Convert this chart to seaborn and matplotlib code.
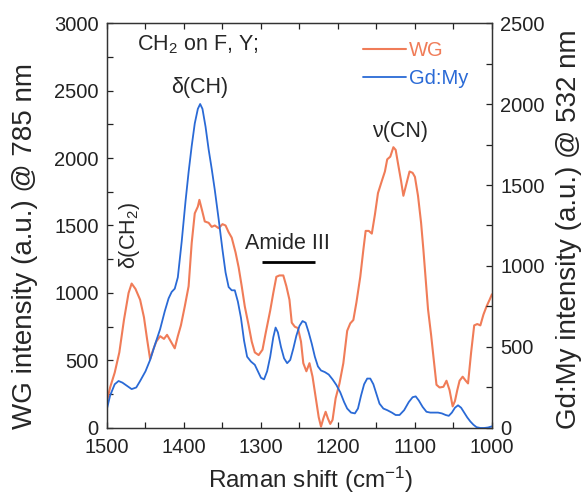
import numpy as np
import pandas as pd
import matplotlib
matplotlib.use("Agg")
import matplotlib.pyplot as plt
import seaborn as sns

# WG spectrum (785 nm excitation)
wg_shift = [1500, 1496, 1490, 1484, 1478, 1472, 1468, 1463, 1457, 1452, 1448, 1444,
            1440, 1436, 1431, 1426, 1422, 1417, 1412, 1408, 1404, 1399, 1394, 1390,
            1386, 1382, 1380, 1376, 1373, 1368, 1364, 1360, 1355, 1350, 1346, 1342,
            1338, 1333, 1329, 1325, 1321, 1316, 1312, 1308, 1303, 1298, 1294, 1288,
            1284, 1280, 1276, 1271, 1267, 1263, 1260, 1256, 1252, 1248, 1245, 1241,
            1237, 1233, 1229, 1225, 1222, 1219, 1216, 1213, 1210, 1207, 1203, 1198,
            1193, 1188, 1184, 1180, 1176, 1171, 1167, 1164, 1160, 1156, 1152, 1148,
            1143, 1139, 1136, 1132, 1128, 1125, 1122, 1118, 1115, 1111, 1107, 1103,
            1100, 1096, 1092, 1089, 1086, 1083, 1079, 1076, 1072, 1068, 1063, 1059,
            1055, 1051, 1048, 1045, 1042, 1038, 1034, 1031, 1027, 1023, 1019, 1015,
            1011, 1007, 1003, 1000]
wg_int = [200, 300, 410, 560, 800, 1000, 1070, 1030, 950, 820, 660, 510,
          580, 640, 680, 660, 690, 640, 590, 680, 760, 900, 1050, 1370,
          1590, 1640, 1690, 1600, 1530, 1520, 1490, 1500, 1480, 1510, 1500, 1450,
          1410, 1300, 1190, 1050, 900, 760, 640, 560, 540, 580, 700, 870,
          1000, 1120, 1130, 1130, 1050, 950, 780, 750, 740, 640, 480, 420,
          480, 380, 230, 80, 10, 70, 120, 70, 30, 60, 220, 330,
          480, 720, 775, 800, 930, 1120, 1320, 1460, 1460, 1440, 1580, 1740,
          1830, 1900, 1990, 2010, 2080, 2060, 1960, 1830, 1720, 1810, 1900, 1890,
          1860, 1720, 1520, 1320, 1100, 880, 690, 530, 320, 300, 305, 350,
          280, 160, 200, 280, 350, 380, 350, 330, 560, 760, 770, 760,
          840, 900, 950, 990]

# Gd:My spectrum (532 nm excitation)
gd_shift = [1500, 1496, 1490, 1485, 1480, 1474, 1468, 1462, 1457, 1450, 1444, 1438,
            1431, 1425, 1420, 1416, 1412, 1408, 1403, 1398, 1394, 1390, 1386, 1382,
            1379, 1376, 1372, 1368, 1364, 1360, 1355, 1350, 1346, 1342, 1338, 1334,
            1330, 1326, 1322, 1318, 1313, 1308, 1304, 1300, 1296, 1292, 1288, 1284,
            1281, 1278, 1274, 1270, 1266, 1262, 1258, 1254, 1250, 1246, 1242, 1238,
            1234, 1230, 1226, 1222, 1217, 1212, 1207, 1202, 1197, 1192, 1188, 1183,
            1178, 1174, 1170, 1166, 1162, 1158, 1154, 1150, 1146, 1141, 1136, 1130,
            1125, 1120, 1114, 1108, 1103, 1099, 1095, 1090, 1085, 1080, 1075, 1070,
            1065, 1060, 1056, 1052, 1048, 1044, 1040, 1036, 1032, 1028, 1024, 1020,
            1015, 1010, 1005, 1000]
gd_int = [120, 200, 270, 290, 280, 260, 240, 250, 290, 350, 420, 510,
          610, 720, 800, 840, 860, 930, 1150, 1400, 1580, 1740, 1880, 1970,
          2000, 1970, 1860, 1720, 1600, 1470, 1290, 1100, 960, 870, 850, 850,
          780, 680, 540, 440, 410, 390, 350, 310, 300, 350, 440, 560,
          620, 590, 500, 430, 400, 420, 490, 570, 630, 660, 650, 590,
          520, 440, 380, 355, 345, 330, 300, 265, 220, 160, 120, 95,
          90, 120, 200, 270, 305, 305, 270, 210, 150, 120, 110, 95,
          80, 80, 110, 160, 190, 195, 170, 130, 100, 95, 95, 95,
          90, 80, 75, 95, 125, 140, 125, 95, 65, 40, 20, 5,
          0, 0, 3, 10]

amide_range = [1299, 1230]
amide_level = 1230

orange = "#F07C58"
blue = "#2A6AD6"

sns.set_theme(style="ticks")
plt.rcParams["font.family"] = ["Liberation Sans", "DejaVu Sans"]
plt.rcParams["mathtext.default"] = "regular"

wg = pd.DataFrame({"shift": wg_shift, "intensity": wg_int})
gd = pd.DataFrame({"shift": gd_shift, "intensity": gd_int})

fig, ax = plt.subplots(figsize=(5.87, 4.95), dpi=100)
fig.subplots_adjust(left=0.1823, right=0.838, bottom=0.1354, top=0.9535)
ax2 = ax.twinx()

sns.lineplot(data=wg, x="shift", y="intensity", ax=ax, color=orange,
             lw=1.5, sort=False, label="WG", legend=False)
sns.lineplot(data=gd, x="shift", y="intensity", ax=ax2, color=blue,
             lw=1.3, sort=False, label="Gd:My", legend=False)

ax.set_xlim(1500, 1000)
ax.set_ylim(0, 3000)
ax2.set_ylim(0, 2500)

ax.set_xticks([1500, 1400, 1300, 1200, 1100, 1000])
ax.set_xticks(np.arange(1000, 1501, 50), minor=True)
ax.set_yticks(np.arange(0, 3001, 500))
ax.set_yticks(np.arange(0, 3001, 250), minor=True)
ax2.set_yticks(np.arange(0, 2501, 500))
ax2.set_yticks(np.arange(0, 2501, 250), minor=True)

for a in (ax, ax2):
    a.tick_params(which="both", direction="in", length=4, width=0.9,
                  labelsize=14.5, colors="#222222")
    for s in a.spines.values():
        s.set_color("#333333")
        s.set_linewidth(0.9)
ax.tick_params(which="both", top=True, right=False)
ax.tick_params(axis="x", pad=7.5)
ax.tick_params(axis="y", pad=6)
ax2.tick_params(axis="y", pad=6)

ax.set_xlabel(r"Raman shift (cm$^{-1}$)", fontsize=17.5)
ax.set_ylabel("WG intensity (a.u.) @ 785 nm", fontsize=20)
ax2.set_ylabel("Gd:My intensity (a.u.) @ 532 nm", fontsize=20)
ax.xaxis.set_label_coords(0.53, -0.09)
ax.yaxis.set_label_coords(-0.179, 0.45)
ax2.yaxis.set_label_coords(1.166, 0.49)

# annotations
ax.text(1461, 2840, r"CH$_2$ on F, Y;", fontsize=15.5, va="center", ha="left")
ax.text(1379, 2520, "δ(CH)", fontsize=15.5, va="center", ha="center")
ax.text(1471, 1430, r"δ(CH$_2$)", fontsize=15.5, va="center", ha="center",
        rotation=90)
ax.text(1265, 1370, "Amide III", fontsize=15.5, va="center", ha="center")
ax.hlines(amide_level, amide_range[0], amide_range[1], color="black", lw=2)
ax.text(1119, 2200, "ν(CN)", fontsize=15.5, va="center", ha="center")

handles = [ax.get_lines()[0], ax2.get_lines()[0]]
leg = ax2.legend(handles, ["WG", "Gd:My"], loc="upper right",
                 bbox_to_anchor=(0.985, 1.0), frameon=False, fontsize=14.5,
                 handlelength=2.1, handletextpad=0.15, labelspacing=0.45,
                 labelcolor="linecolor")

fig.savefig("out.png", dpi=100)
